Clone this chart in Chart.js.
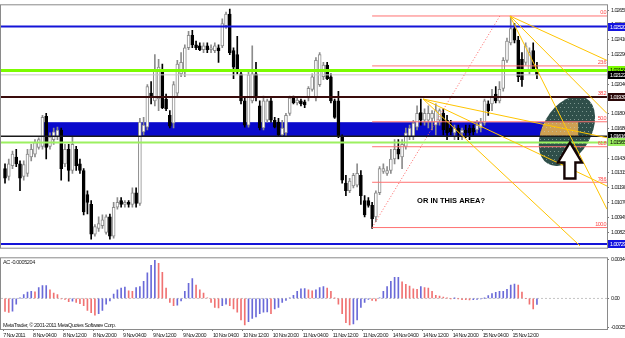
<!DOCTYPE html>
<html><head><meta charset="utf-8">
<script src="https://cdn.jsdelivr.net/npm/chart.js@4.4.0/dist/chart.umd.min.js"></script>
<style>
html,body{margin:0;padding:0;background:#fff;overflow:hidden}
#wrap{position:relative;width:625px;height:338px;background:#fff}
canvas{position:absolute;left:0}
#main{top:0}
#ind{top:253px}
</style></head><body>
<div id="wrap"><canvas id="main" width="625" height="253"></canvas><canvas id="ind" width="625" height="85"></canvas></div>
<script>
// ---------- DATA ----------
const openP=[1.01350,1.01286,1.01374,1.01445,1.01389,1.01286,1.01310,1.01445,1.01469,1.01525,1.01533,1.01780,1.01533,1.01589,1.01612,1.01668,1.01389,1.01509,1.01334,1.01509,1.01389,1.01334,1.01135,1.01055,1.00809,1.00856,1.00880,1.00824,1.00952,1.00793,1.01031,1.01087,1.01055,1.01071,1.01055,1.01151,1.01063,1.01652,1.01692,1.01971,1.01907,1.01923,1.02162,1.01923,1.01788,1.01724,1.01971,1.02130,1.02146,1.02345,1.02448,1.02369,1.02361,1.02329,1.02361,1.02329,1.02321,1.02345,1.02361,1.02528,1.02623,1.02321,1.02289,1.02130,1.01907,1.01708,1.01907,1.02130,1.01867,1.01684,1.01748,1.01907,1.01748,1.01732,1.01628,1.01644,1.01804,1.01931,1.01891,1.01907,1.01899,1.01931,1.02003,1.01931,1.02042,1.02106,1.02202,1.02106,1.01907,1.01907,1.01612,1.01230,1.01167,1.01206,1.01214,1.01294,1.01087,1.01087,1.01047,1.00952,1.01151,1.01326,1.01310,1.01334,1.01429,1.01509,1.01445,1.01533,1.01612,1.01612,1.01692,1.01811,1.01748,1.01748,1.01764,1.01708,1.01748,1.01804,1.01748,1.01684,1.01644,1.01684,1.01644,1.01668,1.01684,1.01684,1.01668,1.01684,1.01724,1.01883,1.01883,1.01963,1.01907,1.02010,1.02241,1.02385,1.02504,1.02408,1.02249,1.02225,1.02162,1.02321,1.02162];
const highP=[1.01389,1.01429,1.01493,1.01509,1.01413,1.01413,1.01509,1.01549,1.01589,1.01604,1.01788,1.01804,1.01644,1.01684,1.01692,1.01684,1.01549,1.01549,1.01612,1.01533,1.01429,1.01350,1.01167,1.01087,1.00888,1.00952,1.00968,1.00968,1.00976,1.01071,1.01111,1.01111,1.01087,1.01087,1.01191,1.01191,1.01764,1.01772,1.02042,1.02066,1.02289,1.02249,1.02210,1.01963,1.01827,1.02066,1.02241,1.02305,1.02369,1.02480,1.02488,1.02401,1.02385,1.02385,1.02385,1.02369,1.02385,1.02369,1.02584,1.02639,1.02663,1.02345,1.02440,1.02146,1.01931,1.02146,1.02361,1.02225,1.01907,1.01947,1.01923,1.01931,1.01772,1.01764,1.01748,1.01804,1.01947,1.01947,1.01931,1.01923,1.01915,1.02026,1.02130,1.02265,1.02305,1.02225,1.02225,1.02130,1.01923,1.01987,1.01628,1.01294,1.01270,1.01310,1.01389,1.01334,1.01127,1.01111,1.01071,1.01167,1.01366,1.01389,1.01366,1.01509,1.01589,1.01589,1.01589,1.01684,1.01708,1.01748,1.01867,1.01923,1.01843,1.01867,1.01827,1.01883,1.01843,1.01843,1.01788,1.01748,1.01708,1.01708,1.01684,1.01708,1.01708,1.01708,1.01748,1.01764,1.01923,1.01907,1.02003,1.02026,1.02066,1.02265,1.02424,1.02607,1.02544,1.02440,1.02305,1.02385,1.02345,1.02385,1.02225];
const lowP=[1.01230,1.01254,1.01350,1.01366,1.01167,1.01254,1.01286,1.01413,1.01445,1.01509,1.01509,1.01429,1.01509,1.01549,1.01589,1.01254,1.01366,1.01246,1.01310,1.01334,1.01310,1.00968,1.00976,1.00769,1.00793,1.00832,1.00856,1.00809,1.00769,1.00777,1.01015,1.01031,1.01031,1.01031,1.01031,1.01031,1.01047,1.01628,1.01668,1.01883,1.01867,1.01827,1.01843,1.01827,1.01684,1.01684,1.01947,1.02106,1.02106,1.02329,1.02345,1.02329,1.02321,1.02305,1.02305,1.02305,1.02305,1.02225,1.02345,1.02504,1.02289,1.02090,1.02130,1.01883,1.01692,1.01692,1.01891,1.01907,1.01668,1.01668,1.01732,1.01732,1.01684,1.01612,1.01612,1.01620,1.01788,1.01883,1.01875,1.01867,1.01851,1.01907,1.01987,1.01907,1.02026,1.02082,1.02082,1.01891,1.01764,1.01604,1.01230,1.01127,1.01151,1.01191,1.01199,1.01055,1.00952,1.01031,1.00856,1.00912,1.01135,1.01310,1.01294,1.01310,1.01389,1.01429,1.01350,1.01509,1.01589,1.01589,1.01668,1.01708,1.01708,1.01684,1.01668,1.01628,1.01708,1.01628,1.01589,1.01628,1.01589,1.01589,1.01589,1.01604,1.01589,1.01628,1.01644,1.01652,1.01708,1.01788,1.01827,1.01891,1.01891,1.01987,1.02225,1.02369,1.02385,1.02066,1.02026,1.02202,1.02130,1.02162,1.02090];
const closeP=[1.01270,1.01389,1.01469,1.01389,1.01270,1.01382,1.01469,1.01509,1.01565,1.01589,1.01772,1.01525,1.01612,1.01652,1.01668,1.01350,1.01509,1.01334,1.01549,1.01374,1.01334,1.00992,1.01071,1.00809,1.00872,1.00896,1.00928,1.00952,1.00793,1.01031,1.01071,1.01055,1.01071,1.01055,1.01151,1.01063,1.01732,1.01708,1.02026,1.01947,1.02162,1.02186,1.01851,1.01843,1.01700,1.02042,1.02210,1.02225,1.02345,1.02448,1.02369,1.02345,1.02329,1.02361,1.02329,1.02345,1.02361,1.02321,1.02544,1.02623,1.02305,1.02186,1.02146,1.01907,1.01708,1.02122,1.02130,1.01931,1.01684,1.01907,1.01907,1.01748,1.01692,1.01628,1.01684,1.01788,1.01931,1.01891,1.01915,1.01883,1.01875,1.02010,1.02106,1.02241,1.02289,1.02202,1.02090,1.01907,1.01772,1.01612,1.01254,1.01167,1.01246,1.01294,1.01310,1.01127,1.00968,1.01047,1.00936,1.01151,1.01350,1.01350,1.01334,1.01429,1.01509,1.01469,1.01549,1.01644,1.01684,1.01724,1.01804,1.01748,1.01804,1.01804,1.01804,1.01827,1.01827,1.01668,1.01644,1.01652,1.01684,1.01644,1.01668,1.01644,1.01644,1.01652,1.01708,1.01724,1.01907,1.01827,1.01947,1.01907,1.02003,1.02241,1.02401,1.02504,1.02408,1.02106,1.02082,1.02361,1.02305,1.02162,1.02122];
const acValues=[-0.00115,-0.00123,-0.00112,-0.00050,0.00003,0.00034,0.00056,0.00062,0.00058,0.00095,0.00112,0.00113,0.00076,0.00048,0.00034,-0.00003,-0.00008,-0.00028,-0.00025,-0.00036,-0.00045,-0.00064,-0.00106,-0.00126,-0.00148,-0.00134,-0.00106,-0.00050,-0.00022,0.00039,0.00076,0.00090,0.00100,0.00067,0.00062,0.00095,0.00104,0.00151,0.00224,0.00291,0.00336,0.00308,0.00230,0.00090,-0.00036,-0.00064,-0.00060,-0.00022,0.00062,0.00132,0.00174,0.00118,0.00076,0.00048,0.00006,-0.00036,-0.00078,-0.00084,-0.00064,-0.00050,-0.00064,-0.00092,-0.00120,-0.00190,-0.00232,-0.00204,-0.00176,-0.00162,-0.00134,-0.00120,-0.00118,-0.00134,-0.00092,-0.00078,-0.00036,-0.00017,0.00006,0.00028,0.00062,0.00084,0.00086,0.00076,0.00067,0.00076,0.00095,0.00104,0.00090,0.00062,0.00002,-0.00050,-0.00134,-0.00213,-0.00232,-0.00224,-0.00190,-0.00078,-0.00036,-0.00008,-0.00017,-0.00022,0.00006,0.00062,0.00104,0.00151,0.00185,0.00186,0.00146,0.00123,0.00109,0.00084,0.00080,0.00104,0.00095,0.00090,0.00062,0.00028,0.00020,0.00011,0.00002,-0.00001,0.00001,-0.00002,-0.00011,-0.00012,-0.00014,-0.00011,-0.00008,-0.00005,0.00001,0.00025,0.00042,0.00053,0.00062,0.00063,0.00081,0.00118,0.00126,0.00118,0.00056,0.00000,-0.00050,-0.00092,-0.0005204];
const priceTickLabels=['1.02655','1.02535','1.02410','1.02290','1.02165','1.02040','1.01920','1.01800','1.01680','1.01555','1.01430','1.01315','1.01190','1.01070','1.00945','1.00825'];
const acTickValues=[0.003444,0,-0.002520];
const acTickLabels=['0.003444','0.00','-0.002520'];
const dateLabels=['7 Nov 2011','8 Nov 04:00','8 Nov 12:00','8 Nov 20:00','9 Nov 04:00','9 Nov 12:00','9 Nov 20:00','10 Nov 04:00','10 Nov 12:00','10 Nov 20:00','11 Nov 04:00','11 Nov 12:00','11 Nov 20:00','14 Nov 04:00','14 Nov 12:00','14 Nov 20:00','15 Nov 04:00','15 Nov 12:00'];
const dateTickBars=[-0.5,7.5,15.5,23.5,31.5,39.5,47.5,55.5,63.5,71.5,79.5,87.5,95.5,103.5,111.5,119.5,127.5,135.5];
// horizontal price lines
const hLinePrices=[1.02520,1.02158,1.02122,1.01939,1.01616,1.01565,1.00729];
const hLineColors=['#1414d8','#7cfc00','#c8c8c8','#3a0c0c','#1a1a1a','#9cf060','#1414d8'];
const hLineWidths=[2,3,1,2,1.5,2,2];
const hBoxBg=['#1414e0','#7cfc00','#000000','#2a0808','#000000','#9cf060','#1414e0'];
const hBoxFg=['#ffffff','#000000','#ffffff','#ffffff','#ffffff','#000000','#ffffff'];
// fibonacci
const fibLevels=[0,23.6,38.2,50,61.8,78.6,100];
const fibLevelLabels=['0.0','23.6','38.2','50.0','61.8','78.6','100.0'];
const fibHigh=1.02607, fibLow=1.00864, fibLowBar=98.0, fibHighBar=132.1;
// zone rectangle (bars / prices)
const zoneBars=[10.4,153.0], zonePrices=[1.01732,1.01616];
// yellow fan lines
const fanA=[134.8,1.02607], fanB=[111.6,1.01923];
const fanEnds=[[fanA,160.7,1.02241],[fanA,160.7,1.01804],[fanA,160.7,1.01015],[fanB,153.5,1.00713],[fanB,160.7,1.01206],[fanB,160.7,1.01604]];
// annotations
const ellipseAt=[150.0,1.01660];
const arrowTipAt=[150.8,1.01565];
const noteText='OR IN THIS AREA?', noteAt=[110.0,1.01087];
const X_MIN=-1.07, X_MAX=160.7;
const Y_MIN=1.00698, Y_MAX=1.02695;
const AC_MIN=-0.002688, AC_MAX=0.003528;

// ---------- BUILD ----------
const FONT="Arial,'Liberation Sans',sans-serif";
const SPACING='-0.6px';
const idx=openP.map((_,i)=>i);
const bull=idx.map(i=>closeP[i]>=openP[i]);
const datasets=[];
datasets.push({type:'bar',data:idx.map(i=>({x:i,y:[openP[i],closeP[i]]})),
  backgroundColor:idx.map(i=>bull[i]?'#ffffff':'#000000'),
  borderColor:idx.map(i=>bull[i]?'#8c8c8c':'#000000'),
  borderWidth:1,borderSkipped:false,barThickness:3,minBarLength:1,grouped:false,order:5});
datasets.push({type:'bar',data:idx.map(i=>({x:i,y:[lowP[i],highP[i]]})),
  backgroundColor:idx.map(i=>bull[i]?'#8c8c8c':'#000000'),
  barThickness:1,minBarLength:1,grouped:false,order:6});
hLinePrices.forEach((p,k)=>{
  datasets.push({type:'line',data:[{x:X_MIN,y:p},{x:X_MAX,y:p}],borderColor:hLineColors[k],borderWidth:hLineWidths[k],pointRadius:0,order:k===2?4:1});
});
const fibRange=fibHigh-fibLow;
fibLevels.forEach(l=>{
  const p=fibHigh-fibRange*l/100;
  datasets.push({type:'line',data:[{x:fibLowBar,y:p},{x:X_MAX,y:p}],borderColor:'#ff7272',borderWidth:1,pointRadius:0,order:2});
});
datasets.push({type:'line',data:[{x:fibLowBar,y:fibLow},{x:fibHighBar,y:fibHigh}],borderColor:'#ff6060',borderWidth:1,borderDash:[1,2],pointRadius:0,order:2});
fanEnds.forEach(f=>{
  datasets.push({type:'line',data:[{x:f[0][0],y:f[0][1]},{x:f[1],y:f[2]}],borderColor:'#ffc400',borderWidth:1,pointRadius:0,order:0});
});

const spacingPlugin={id:'spacing',
  beforeLayout(chart){chart.ctx.letterSpacing=SPACING;},
  beforeDraw(chart){chart.ctx.letterSpacing=SPACING;}
};

const bgPlugin={id:'bg',
  beforeDatasetsDraw(chart){
    const {ctx,scales:{x,y},chartArea:a}=chart;
    ctx.save();
    ctx.beginPath();ctx.rect(a.left,a.top,a.right-a.left,a.bottom-a.top);ctx.clip();
    const rx1=x.getPixelForValue(zoneBars[0]),rx2=x.getPixelForValue(zoneBars[1]);
    const ry1=y.getPixelForValue(zonePrices[0]),ry2=y.getPixelForValue(zonePrices[1]);
    ctx.fillStyle='#0a0acc';
    ctx.fillRect(rx1,ry1,rx2-rx1,ry2-ry1);
    const cx=x.getPixelForValue(ellipseAt[0]),cy=y.getPixelForValue(ellipseAt[1]);
    ctx.beginPath();ctx.ellipse(cx,cy,38,24,-60*Math.PI/180,0,Math.PI*2);
    ctx.fillStyle='#2f4f4a';ctx.fill();
    ctx.save();ctx.clip();
    ctx.fillStyle='#cfa052';ctx.fillRect(rx1,ry1,rx2-rx1,ry2-ry1);
    ctx.fillStyle='rgba(190,210,200,0.55)';
    for(let yy=cy-40;yy<cy+40;yy+=4){for(let xx=cx-40+((yy/4)%2)*2;xx<cx+40;xx+=4){ctx.fillRect(Math.round(xx),Math.round(yy),1,1);}}
    ctx.restore();
    ctx.restore();
  },
  afterDatasetsDraw(chart){
    const {ctx,scales:{x,y},chartArea:a}=chart;
    ctx.save();
    ctx.font='5.5px '+FONT;ctx.fillStyle='#ff4a4a';ctx.textAlign='right';ctx.textBaseline='bottom';
    fibLevels.forEach((l,k)=>{const p=fibHigh-fibRange*l/100;ctx.fillText(fibLevelLabels[k],a.right-1,y.getPixelForValue(p)-0.5);});
    const tx=x.getPixelForValue(arrowTipAt[0]),ty=y.getPixelForValue(arrowTipAt[1]);
    ctx.beginPath();
    ctx.moveTo(tx,ty);ctx.lineTo(tx+12,ty+20);ctx.lineTo(tx+5.5,ty+20);ctx.lineTo(tx+5.5,ty+36);
    ctx.lineTo(tx-5.5,ty+36);ctx.lineTo(tx-5.5,ty+20);ctx.lineTo(tx-12,ty+20);ctx.closePath();
    ctx.fillStyle='#ffffff';ctx.fill();ctx.lineWidth=2.4;ctx.strokeStyle='#140404';ctx.lineJoin='miter';ctx.stroke();
    ctx.letterSpacing='0px';
    ctx.font='bold 7.5px '+FONT;
    ctx.fillStyle='#000';ctx.textAlign='left';ctx.textBaseline='middle';
    ctx.fillText(noteText,x.getPixelForValue(noteAt[0]),y.getPixelForValue(noteAt[1]));
    ctx.restore();
  },
  afterDraw(chart){
    const {ctx,scales:{y},chartArea:a}=chart;
    ctx.save();
    ctx.strokeStyle='#8a8a8a';ctx.lineWidth=1;
    ctx.strokeRect(a.left-0.5,a.top-0.5,a.right-a.left+1,a.bottom-a.top+1);
    ctx.letterSpacing=SPACING;
    ctx.font='5.5px '+FONT;ctx.textBaseline='middle';ctx.textAlign='left';
    hLinePrices.forEach((p,k)=>{
      const py=Math.round(y.getPixelForValue(p));
      ctx.fillStyle=hBoxBg[k];ctx.fillRect(a.right+1,py-4,18,8);
      ctx.fillStyle=hBoxFg[k];ctx.fillText(p.toFixed(5),a.right+3,py+0.5);
    });
    ctx.restore();
  }
};

new Chart(document.getElementById('main'),{
  type:'bar',
  data:{datasets},
  options:{
    responsive:false,animation:false,devicePixelRatio:1,
    layout:{padding:{left:1,top:1,right:0,bottom:1}},
    plugins:{legend:{display:false},tooltip:{enabled:false}},
    scales:{
      x:{type:'linear',min:X_MIN,max:X_MAX,offset:false,display:false},
      y:{type:'linear',position:'right',min:Y_MIN,max:Y_MAX,
        afterFit(s){s.width=18;},
        afterBuildTicks(s){s.ticks=priceTickLabels.map(l=>({value:parseFloat(l)}));},
        ticks:{callback:(v,i)=>priceTickLabels[i],autoSkip:false,padding:2,color:'#222',font:{size:5.5,family:FONT}},
        grid:{drawOnChartArea:false,tickLength:2,color:'#777'},
        border:{color:'#777'}}
    }
  },
  plugins:[spacingPlugin,bgPlugin]
});

const indPlugin={id:'ind',
  afterDraw(chart){
    const {ctx,chartArea:a}=chart;
    ctx.save();
    ctx.strokeStyle='#8a8a8a';ctx.lineWidth=1;
    ctx.strokeRect(a.left-0.5,a.top-0.5,a.right-a.left+1,a.bottom-a.top+1);
    ctx.letterSpacing='-0.4px';
    ctx.font='5.5px '+FONT;ctx.fillStyle='#222';ctx.textAlign='left';
    ctx.textBaseline='top';ctx.fillText('AC -0.0005204',a.left+2,a.top+1);
    ctx.textBaseline='bottom';ctx.fillText('MetaTrader, \u00a9 2001-2011 MetaQuotes Software Corp.',a.left+2,a.bottom-1);
    ctx.restore();
  }
};
new Chart(document.getElementById('ind'),{
  type:'bar',
  data:{datasets:[
    {type:'bar',data:idx.map(i=>({x:i,y:acValues[i]})),
     backgroundColor:idx.map(i=>(i>0&&acValues[i]>acValues[i-1])?'#6a6ad8':'#f07272'),
     barThickness:1,grouped:false,order:0},
    {type:'line',data:[{x:X_MIN,y:0},{x:X_MAX,y:0}],borderColor:'#c4c4c4',borderWidth:1,borderDash:[2,2],pointRadius:0,order:1}
  ]},
  options:{
    responsive:false,animation:false,devicePixelRatio:1,
    layout:{padding:{left:1,top:2,right:0,bottom:0}},
    plugins:{legend:{display:false},tooltip:{enabled:false}},
    scales:{
      x:{type:'linear',min:X_MIN,max:X_MAX,offset:false,
        afterFit(s){s.height=9;},
        afterBuildTicks(s){s.ticks=dateTickBars.map(v=>({value:v}));},
        ticks:{callback:(v,i)=>dateLabels[i],autoSkip:false,maxRotation:0,minRotation:0,align:'start',padding:1,color:'#222',font:{size:5.5,family:FONT}},
        grid:{drawOnChartArea:false,tickLength:2,color:'#777',offset:false},border:{color:'#777'}},
      y:{type:'linear',position:'right',min:AC_MIN,max:AC_MAX,
        afterFit(s){s.width=18;},
        afterBuildTicks(s){s.ticks=acTickValues.map(v=>({value:v}));},
        ticks:{callback:(v,i)=>acTickLabels[i],autoSkip:false,padding:2,color:'#222',font:{size:5.5,family:FONT}},
        grid:{drawOnChartArea:false,tickLength:2,color:'#777'},border:{color:'#777'}}
    }
  },
  plugins:[spacingPlugin,indPlugin]
});
</script>
</body></html>
